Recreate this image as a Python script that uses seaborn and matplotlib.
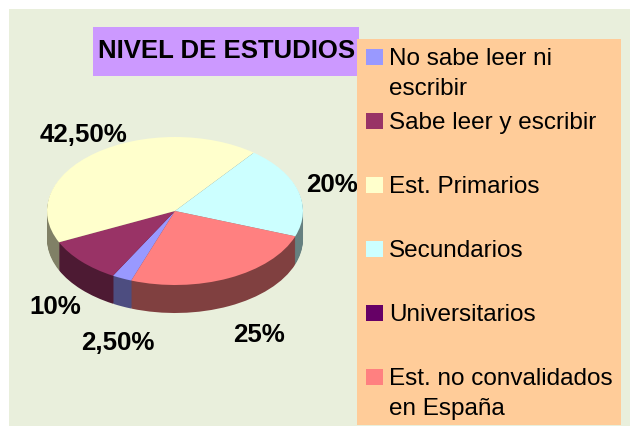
# Pie chart of study levels, fake 3D look made by stacking pies
import matplotlib
matplotlib.use('Agg')
import matplotlib.pyplot as plt
from matplotlib.patches import Rectangle
import seaborn as sns

# Data
categories = ['No sabe leer ni\nescribir', 'Sabe leer y escribir', 'Est. Primarios',
              'Secundarios', 'Universitarios', 'Est. no convalidados\nen España']
values = [2.5, 10, 42.5, 20, 0, 25]
pct_labels = ['2,50%', '10%', '42,50%', '20%', '', '25%']
colors = ['#9999FF', '#993366', '#FFFFCC', '#CCFFFF', '#660066', '#FF8080']
title = 'NIVEL DE ESTUDIOS'

sns.set_theme(style='white')
plt.rcParams['font.family'] = ['Liberation Sans', 'DejaVu Sans']

W, H = 630, 426
palette = sns.color_palette(colors)
dark_palette = [tuple(c * 0.5 for c in col) for col in palette]

fig = plt.figure(figsize=(W / 100, H / 100), dpi=100, facecolor='white')

# Overlay axes in pixel units for background, title box and legend
bg = fig.add_axes([0, 0, 1, 1], zorder=0)
bg.set_xlim(0, W)
bg.set_ylim(H, 0)
bg.axis('off')
bg.add_patch(Rectangle((9, 9), W - 9, H - 9, color='#E9EFDC', lw=0))

# Pie axes: ellipse top face 47-303 x 137-285, side goes down to 313
px_left, px_right, px_top, px_bottom = 47, 303, 137, 313
ry = 74
ax = fig.add_axes([px_left / W, 1 - px_bottom / H,
                   (px_right - px_left) / W, (px_bottom - px_top) / H], zorder=1)
for d in range(28, 0, -1):
    ax.pie(values, colors=dark_palette, startangle=250, counterclock=False,
           center=(0, -d / ry), radius=1, wedgeprops={'linewidth': 0})
ax.pie(values, colors=palette, startangle=250, counterclock=False,
       center=(0, 0), radius=1, wedgeprops={'linewidth': 0})
ax.set_aspect('auto')
ax.set_xlim(-1, 1)
ax.set_ylim(-1 - 28 / ry, 1)
ax.axis('off')

# Everything on top: labels, title, legend
top = fig.add_axes([0, 0, 1, 1], zorder=2)
top.set_xlim(0, W)
top.set_ylim(H, 0)
top.axis('off')
top.patch.set_alpha(0)

label_pos = [(118, 343.5), (55, 306.5), (84, 135.5), (332, 185.5), None, (259, 335.5)]
for txt, pos in zip(pct_labels, label_pos):
    if pos:
        top.text(pos[0], pos[1], txt, fontsize=18.6, fontweight='bold', color='black',
                 ha='center', va='center')

top.add_patch(Rectangle((93, 27), 266, 49, color='#CC99FF', lw=0))
top.text(97.5, 51.5, title, fontsize=18.5, fontweight='bold', color='black', va='center')

top.add_patch(Rectangle((357, 39), 264, 386, color='#FFCC99', lw=0, zorder=3))
for i, (name, col) in enumerate(zip(categories, palette)):
    y = 49 + 64 * i
    top.add_patch(Rectangle((366, y), 17, 16, color=col, lw=0, zorder=4))
    for j, line in enumerate(name.split('\n')):
        top.text(389, y + 10 + 30 * j, line, fontsize=17.5, color='black', va='center', zorder=4)

fig.savefig('out.png', dpi=100)
